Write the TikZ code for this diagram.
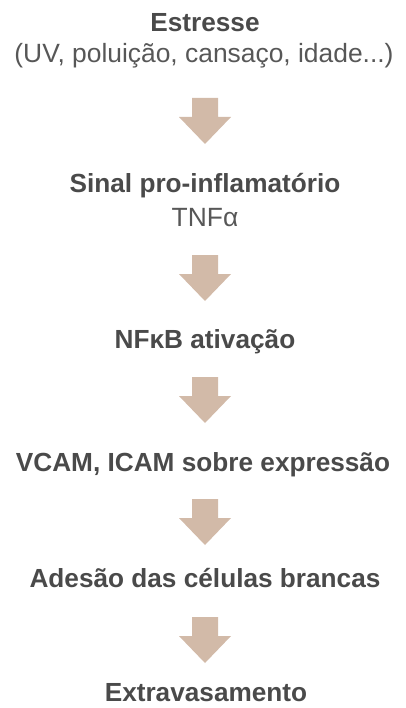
\documentclass[tikz,border=0pt]{standalone}
\usepackage{fontspec}
\setmainfont{Liberation Sans}
\definecolor{txtdark}{HTML}{4A4A4A}
\definecolor{txtreg}{HTML}{575757}
\definecolor{arrowcol}{HTML}{D2BAA8}
\begin{document}
\begin{tikzpicture}[x=1pt,y=-1pt,
  title/.style={anchor=base,inner sep=0pt,text=txtdark,font=\fontsize{26.2}{30}\selectfont\bfseries},
  sub/.style={anchor=base,inner sep=0pt,text=txtreg,font=\fontsize{26.4}{30}\selectfont},
  downarr/.pic={\fill[arrowcol] (-13,0) -- (13,0) -- (13,19) -- (26,19) -- (0,46) -- (-26,19) -- (-13,19) -- cycle;}]
\useasboundingbox (0,0) rectangle (405,708);
\node[title] (t1) at (205,32) {Estresse};
\node[sub] (s1) at (204,63) {(UV, poluição, cansaço, idade...)};
\pic (a1) at (205,98) {downarr};
\node[title] (t2) at (205,193) {Sinal pro-inflamatório};
\node[sub] (s2) at (205,227) {TNFα};
\pic (a2) at (205,255) {downarr};
\node[title] (t3) at (205,348) {NFκB ativação};
\pic (a3) at (205,377) {downarr};
\node[title] (t4) at (203,471) {VCAM, ICAM sobre expressão};
\pic (a4) at (205,499) {downarr};
\node[title] (t5) at (205,587) {Adesão das células brancas};
\pic (a5) at (205,617) {downarr};
\node[title] (t6) at (206,701.5) {Extravasamento};
\end{tikzpicture}
\end{document}
